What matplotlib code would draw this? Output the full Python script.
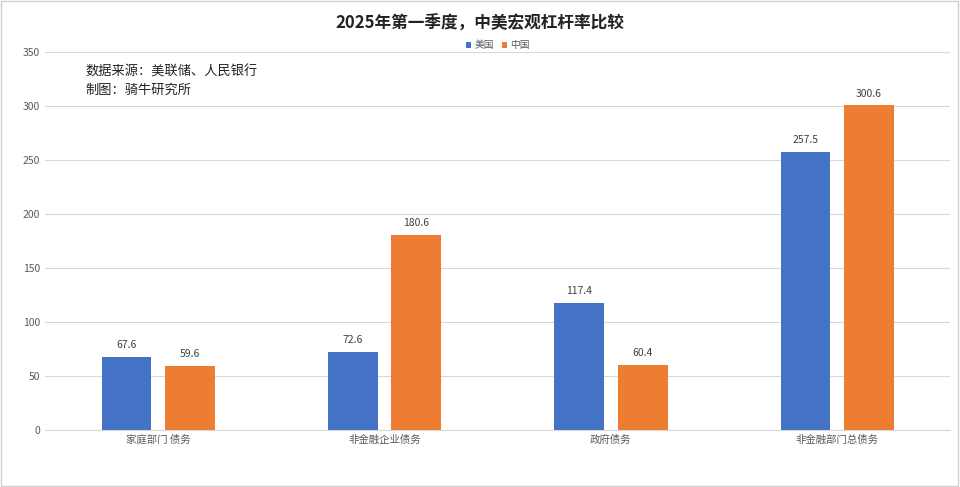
import matplotlib.pyplot as plt
import numpy as np

plt.rcParams['font.family'] = ['Noto Sans CJK SC', 'DejaVu Sans']

categories = ['家庭部门 债务', '非金融企业债务', '政府债务', '非金融部门总债务']
us = [67.6, 72.6, 117.4, 257.5]
cn = [59.6, 180.6, 60.4, 300.6]


def main():
    fig = plt.figure(figsize=(9.6, 4.87), dpi=100)
    ax = fig.add_axes([0.047, 0.117, 0.943, 0.776])
    x = np.arange(len(categories))
    w = 0.22
    b1 = ax.bar(x - 0.14, us, w, color='#4472C4', label='美国', zorder=3)
    b2 = ax.bar(x + 0.14, cn, w, color='#ED7D31', label='中国', zorder=3)
    for bars in (b1, b2):
        ax.bar_label(bars, fmt='%.1f', padding=5, fontsize=7.5, color='#404040')

    ax.set_xlim(-0.5, 3.5)
    ax.set_ylim(0, 350)
    ax.set_yticks(range(0, 351, 50))
    ax.set_xticks(x, categories)
    ax.grid(axis='y', color='#d9d9d9', linewidth=0.8, zorder=0)
    for s in ('top', 'right', 'left'):
        ax.spines[s].set_visible(False)
    ax.spines['bottom'].set_color('#d9d9d9')
    ax.tick_params(length=0, labelsize=7.5, labelcolor='#595959')

    fig.text(0.5, 0.952, '2025年第一季度，中美宏观杠杆率比较', ha='center', va='center',
             fontsize=12, fontweight='bold', color='#222222')
    ax.legend(loc='upper center', bbox_to_anchor=(0.5, 1.055), ncol=2, frameon=False,
              fontsize=7, handlelength=0.6, handleheight=0.6, columnspacing=0.8,
              handletextpad=0.3, labelcolor='#595959')
    ax.text(0.045, 0.965, '数据来源：美联储、人民银行\n制图：骑牛研究所', transform=ax.transAxes,
            ha='left', va='top', fontsize=9.5, linespacing=1.5, color='#222222')

    fig.patches.append(plt.Rectangle((0.001, 0.002), 0.997, 0.996, transform=fig.transFigure,
                                     fill=False, edgecolor='#d0d0d0', linewidth=1))
    plt.savefig('out.png')


if __name__ == "__main__":
    main()
